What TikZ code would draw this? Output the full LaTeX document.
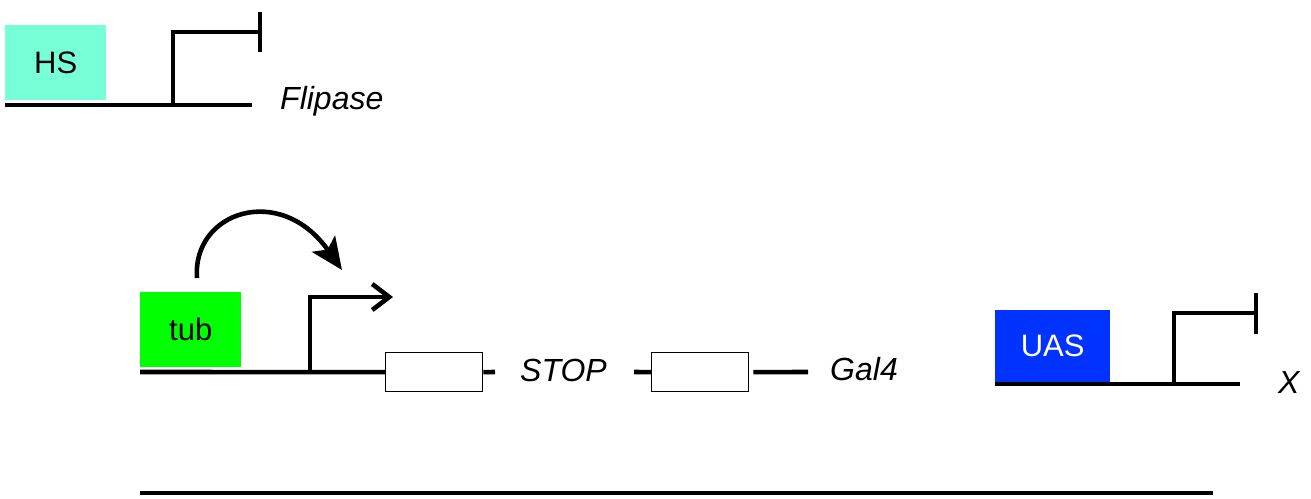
\documentclass[tikz,border=0pt]{standalone}
\usepackage{fontspec}
\setmainfont{Liberation Sans}
\usetikzlibrary{arrows.meta}
\begin{document}
\begin{tikzpicture}[x=1pt,y=-1pt,
  dna/.style={line width=4.6pt},
  prom/.style={draw=none,minimum width=101pt,minimum height=75pt,inner sep=0pt,font=\fontsize{31}{35}\selectfont},
  exon/.style={draw,line width=1.3pt,fill=white,minimum width=97pt,minimum height=39pt,inner sep=0pt},
  lbl/.style={font=\fontsize{32}{36}\selectfont\itshape,anchor=west,inner sep=0pt}]
\useasboundingbox (0,0) rectangle (1311,498);
% HS construct
\node[prom,fill={rgb,255:red,119;green,255;blue,215},anchor=north west] (hs) at (5,25) {HS};
\coordinate (hsL) at (5,105);
\coordinate (hsR) at (252,105);
\coordinate (hsP) at (173,105);
\coordinate (hsT) at (260,32);
\draw[dna] (hsL) -- (hsR);
\draw[dna,line cap=rect] (hsP) |- (hsT);
\draw[dna] (260,12) -- (260,52);
\node[lbl] (flp) at (280,101) {Flipase};
% tub construct
\node[prom,fill={rgb,255:red,0;green,255;blue,0},anchor=north west] (tub) at (140,292) {tub};
\coordinate (tubL) at (140,372);
\coordinate (tubP) at (310,372);
\coordinate (tubA) at (393,297);
\node[exon,anchor=north west] (b1) at (385,352) {};
\draw[dna] (tubL) -- (b1.west);
\draw[dna,-{Straight Barb[length=17pt,width=26pt,line width=4.6pt]}] (tubP) |- (tubA);
\coordinate (d1) at (495,372);
\draw[dna] (b1.east) -- (d1);
\node[lbl] (stop) at (520,370) {STOP};
\node[exon,anchor=north west] (b2) at (651,352) {};
\coordinate (d2) at (634,372);
\draw[dna] (d2) -- (b2.west);
\coordinate (g4) at (808,372);
\draw[dna] ([xshift=4pt]b2.east) -- (g4);
\node[lbl] (gal) at (830,369) {Gal4};
% curved arrow
\coordinate (cs) at (197,278);
\coordinate (ce) at (342,270);
\draw[line width=4.6pt,-{Stealth[length=32pt,width=28pt,inset=7pt]}] (cs) .. controls (192,212) and (280,182) .. (ce);
% UAS construct
\node[prom,fill={rgb,255:red,0;green,51;blue,255},text=white,minimum width=115pt,minimum height=72pt,anchor=north west] (uas) at (995,310) {UAS};
\coordinate (uasL) at (995,384);
\coordinate (uasR) at (1240,384);
\coordinate (uasP) at (1174,384);
\coordinate (uasT) at (1256,313);
\draw[dna] (uasL) -- (uasR);
\draw[dna,line cap=rect] (uasP) |- (uasT);
\draw[dna] (1256,293) -- (1256,334);
\node[lbl] (x) at (1278,382) {X};
% bottom line
\coordinate (bl) at (140,493);
\coordinate (br) at (1213,493);
\draw[dna] (bl) -- (br);
\end{tikzpicture}
\end{document}
